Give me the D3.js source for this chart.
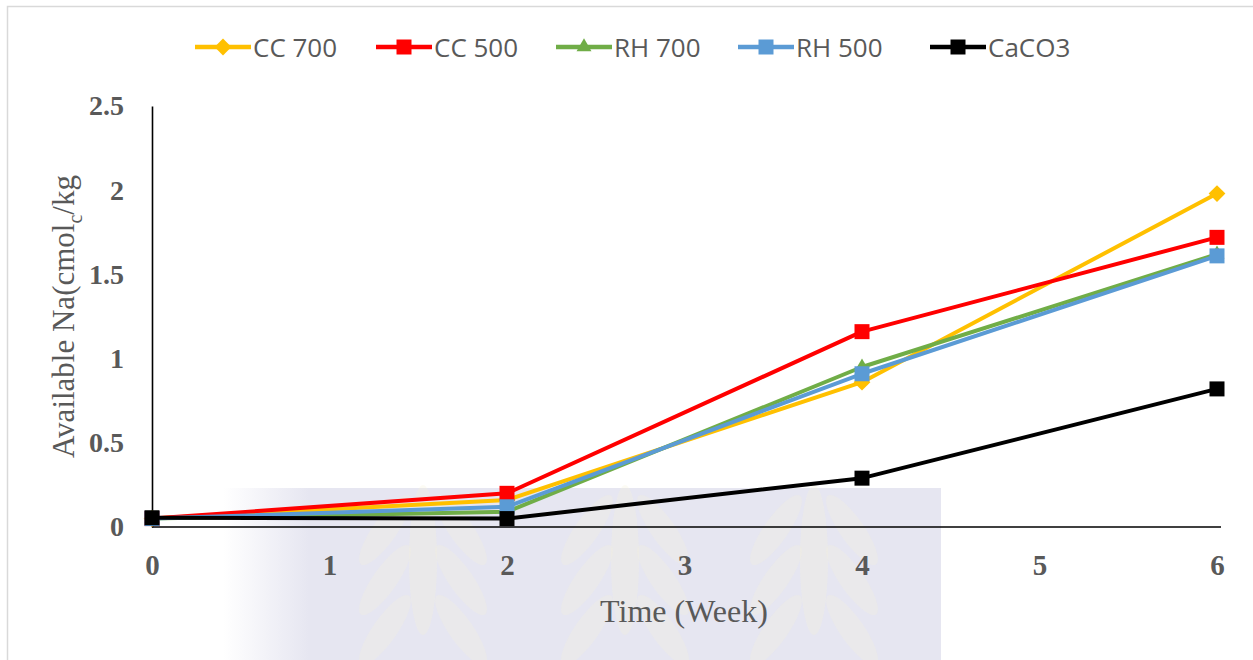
<!DOCTYPE html>
<html>
<head>
<meta charset="utf-8">
<script src="https://cdn.jsdelivr.net/npm/d3@7"></script>
<style>
  body { margin: 0; background: #fff; }
  svg { display: block; }
</style>
</head>
<body>
<svg id="chart"></svg>
<script>
// data
const weeks = [0, 2, 4, 6];
const seriesNames = ["CC 700", "CC 500", "RH 700", "RH 500", "CaCO3"];
const cc700 = [0.05, 0.16, 0.86, 1.98];
const cc500 = [0.05, 0.20, 1.16, 1.72];
const rh700 = [0.05, 0.09, 0.95, 1.62];
const rh500 = [0.05, 0.12, 0.91, 1.61];
const caco3 = [0.055, 0.05, 0.29, 0.82];
const xTicks = [0, 1, 2, 3, 4, 5, 6];
const yTicks = [0, 0.5, 1, 1.5, 2, 2.5];

const colors = ["#FFC000", "#FF0000", "#70AD47", "#5B9BD5", "#000000"];
const markers = ["diamond", "square", "triangle", "square", "square"];
const values = [cc700, cc500, rh700, rh500, caco3];

let W = 1253, H = 660;
let margin = { top: 106, right: 36, bottom: 133, left: 152 },
    width = W - margin.left - margin.right,
    height = H - margin.top - margin.bottom;

var root = d3.select('#chart').attr('width', W).attr('height', H);

// outer chart-area border (only the left/top edges are visible)
root.append('rect')
    .attr('x', 7.5).attr('y', 6.5)
    .attr('width', W + 20).attr('height', H + 20)
    .attr('fill', 'none').attr('stroke', '#d9d9d9').attr('stroke-width', 1.5)

// faint watermark behind the plot
let wm = root.append('g').attr('class', 'watermark')
let grad = root.append('defs').append('linearGradient').attr('id', 'wmfade')
grad.append('stop').attr('offset', '0%').attr('stop-color', '#e6e6f1').attr('stop-opacity', 0)
grad.append('stop').attr('offset', '12%').attr('stop-color', '#e6e6f1').attr('stop-opacity', 1)
grad.append('stop').attr('offset', '100%').attr('stop-color', '#e6e6f1').attr('stop-opacity', 1)
wm.append('rect').attr('x', 223).attr('y', 488).attr('width', 718).attr('height', 172).attr('fill', 'url(#wmfade)')
;[423, 625, 814].forEach(function (cx) {
    wm.append('ellipse').attr('cx', cx).attr('cy', 560).attr('rx', 14).attr('ry', 75)
        .attr('fill', '#f4f1dc').attr('opacity', 0.3)
    ;[530, 580, 630].forEach(function (cy) {
        [-1, 1].forEach(function (s) {
            wm.append('ellipse').attr('cx', cx + s * 38).attr('cy', cy).attr('rx', 12).attr('ry', 42)
                .attr('transform', `rotate(${s * -35}, ${cx + s * 38}, ${cy})`)
                .attr('fill', '#f4f1dc').attr('opacity', 0.28)
        })
    })
})

var svg = root.append('g')
    .attr('transform', `translate(${margin.left}, ${margin.top})`)

let x = d3.scaleLinear().domain([0, 6]).range([0, 1065])
let y = d3.scaleLinear().domain([0, 2.5]).range([height, 0])

// axes
let yAxis = svg.append('g')
    .call(d3.axisLeft(y).tickValues(yTicks).tickSize(0).tickPadding(28)
        .tickFormat(d => String(d)))
yAxis.select('.domain').attr('stroke', '#000').attr('stroke-width', 1.6)
yAxis.selectAll('text')
    .attr('fill', '#595959').attr('font-family', '"Liberation Serif", serif')
    .attr('font-weight', 'bold').attr('font-size', 28)

let xAxis = svg.append('g')
    .attr('transform', `translate(0, ${height})`)
    .call(d3.axisBottom(x).tickValues(xTicks).tickSize(0).tickPadding(27)
        .tickFormat(d3.format('d')))
xAxis.select('.domain').attr('stroke', '#000').attr('stroke-width', 1.6)
    .attr('d', `M0,0H${x(6) + 4}`)
xAxis.selectAll('text')
    .attr('fill', '#595959').attr('font-family', '"Liberation Serif", serif')
    .attr('font-weight', 'bold').attr('font-size', 29)

// axis titles
svg.append('text')
    .attr('x', 532).attr('y', height + 95)
    .attr('text-anchor', 'middle')
    .attr('fill', '#595959').attr('font-family', '"Liberation Serif", serif').attr('font-size', 32)
    .text('Time (Week)')

let yt = svg.append('text')
    .attr('transform', `translate(-78, ${height / 2 + 0}) rotate(-90)`)
    .attr('text-anchor', 'middle')
    .attr('fill', '#595959').attr('font-family', '"Liberation Serif", serif').attr('font-size', 31)
yt.append('tspan').text('Available Na(cmol')
yt.append('tspan').attr('font-size', 20).attr('dy', 8).text('c')
yt.append('tspan').attr('dy', -8).text('/kg')

function markerPath(kind) {
    if (kind === 'diamond') return d3.symbol().type(d3.symbolDiamond2).size(180)()
    if (kind === 'triangle') return d3.symbol().type(d3.symbolTriangle2).size(160)()
    return 'M-7.5,-7.5H7.5V7.5H-7.5Z'
}

let line = d3.line()
    .x(function (d, i) { return x(weeks[i]); })
    .y(function (d) { return y(d); })

values.forEach(function (vals, s) {
    let g = svg.append('g').attr('class', 'series')
    g.append('path')
        .attr('d', line(vals))
        .attr('fill', 'none')
        .attr('stroke', colors[s])
        .attr('stroke-width', 4)
        .attr('stroke-linejoin', 'round')
    g.selectAll('.pt')
        .data(vals)
        .enter().append('path')
        .attr('d', markerPath(markers[s]))
        .attr('transform', function (d, i) { return `translate(${x(weeks[i])}, ${y(d)})`; })
        .attr('fill', colors[s])
})

// legend
let legendX = [195, 376, 556, 738, 930]
let legend = root.append('g').attr('transform', 'translate(0, 47)')
seriesNames.forEach(function (name, s) {
    let item = legend.append('g').attr('transform', `translate(${legendX[s]}, 0)`)
    item.append('line').attr('x1', 0).attr('x2', 56).attr('y1', 0).attr('y2', 0)
        .attr('stroke', colors[s]).attr('stroke-width', 4.5)
    item.append('path').attr('d', markerPath(markers[s]))
        .attr('transform', 'translate(28, 0)').attr('fill', colors[s])
    item.append('text').attr('x', 58).attr('y', 10)
        .attr('fill', '#595959').attr('font-family', '"Open Sans", sans-serif').attr('font-size', 26)
        .text(name)
})
</script>
</body>
</html>
